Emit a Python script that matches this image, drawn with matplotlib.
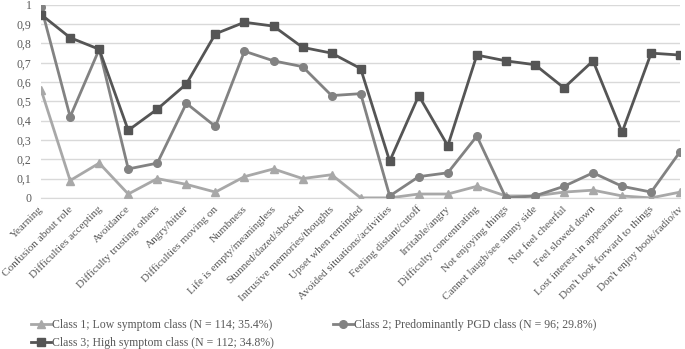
import matplotlib
matplotlib.use("Agg")
import matplotlib.pyplot as plt
import matplotlib.transforms as mtransforms
import numpy as np

categories = ["Yearning", "Confusion about role", "Difficulties accepting", "Avoidance",
              "Difficulty trusting others", "Angry/bitter", "Difficulties moving on", "Numbness",
              "Life is empty/meaningless", "Stunned/dazed/shocked", "Intrusive memories/thoughts",
              "Upset when reminded", "Avoided situations/activities", "Feeling distant/cutoff",
              "Irritable/angry", "Difficulty concentrating", "Not enjoying things",
              "Cannot laugh/see sunny side", "Not feel cheerful", "Feel slowed down",
              "Lost interest in appearance", "Don't look forward to things", "Don't enjoy book/radio/tv"]

class1 = [0.56, 0.09, 0.18, 0.02, 0.10, 0.07, 0.03, 0.11, 0.15, 0.10, 0.12, 0.00,
          0.00, 0.02, 0.02, 0.06, 0.01, 0.01, 0.03, 0.04, 0.01, 0.00, 0.03]
class2 = [0.99, 0.42, 0.77, 0.15, 0.18, 0.49, 0.37, 0.76, 0.71, 0.68, 0.53, 0.54,
          0.01, 0.11, 0.13, 0.32, 0.00, 0.01, 0.06, 0.13, 0.06, 0.03, 0.24]
class3 = [0.95, 0.83, 0.77, 0.35, 0.46, 0.59, 0.85, 0.91, 0.89, 0.78, 0.75, 0.67,
          0.19, 0.53, 0.27, 0.74, 0.71, 0.69, 0.57, 0.71, 0.34, 0.75, 0.74]

labels = ["Class 1; Low symptom class (N = 114; 35.4%)",
          "Class 2; Predominantly PGD class (N = 96; 29.8%)",
          "Class 3; High symptom class (N = 112; 34.8%)"]
yticks = [0, 0.1, 0.2, 0.3, 0.4, 0.5, 0.6, 0.7, 0.8, 0.9, 1.0]
ytick_labels = ["0", "0,1", "0,2", "0,3", "0,4", "0,5", "0,6", "0,7", "0,8", "0,9", "1"]

plt.rcParams['font.family'] = ['Liberation Serif', 'DejaVu Serif']

fig = plt.figure(figsize=(6.85, 3.49), dpi=100)
ax = fig.add_axes([0.06, 0.433, 0.933, 0.553])

x = np.arange(len(categories))
l1, = ax.plot(x, class1, color="#a8a8a8", marker="^", markersize=6, linewidth=2, zorder=3)
l2, = ax.plot(x, class2, color="#828282", marker="o", markersize=5.5, linewidth=2, zorder=4)
l3, = ax.plot(x, class3, color="#555555", marker="s", markersize=5.5, linewidth=2, zorder=5)

ax.set_xlim(0, len(categories) - 1)
ax.set_ylim(0, 1.0)
ax.set_yticks(yticks)
ax.set_yticklabels(ytick_labels, fontsize=8.5, color="#595959")
ax.set_xticks(x)
ax.set_xticklabels(categories, rotation=45, ha="right", va="center", rotation_mode="anchor",
                   fontsize=8.1, color="#595959")
ax.tick_params(axis="y", length=0, pad=7)
ax.tick_params(axis="x", length=0, pad=7)
ax.grid(axis="y", color="#d9d9d9", linewidth=1)
ax.set_axisbelow(True)
for s in ["top", "right", "left"]:
    ax.spines[s].set_visible(False)
ax.spines["bottom"].set_color("#d9d9d9")
for lab in ax.get_xticklabels():
    lab.set_transform(lab.get_transform() + mtransforms.ScaledTranslation(1/100, 0, fig.dpi_scale_trans))

fig.legend([l1, l3, l2], [labels[0], labels[2], labels[1]], loc="center left",
           bbox_to_anchor=(0.045, 0.043), ncol=2, frameon=False, fontsize=8.5,
           handlelength=1.7, handletextpad=0.1, columnspacing=5.0, labelspacing=0.45,
           borderaxespad=0, borderpad=0, labelcolor="#595959")

fig.savefig("out.png", dpi=100)
